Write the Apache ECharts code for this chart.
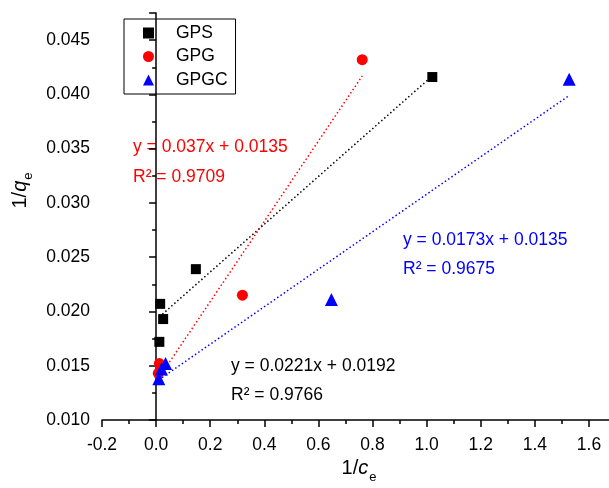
<!DOCTYPE html>
<html><head><meta charset="utf-8">
<script src="https://cdn.jsdelivr.net/npm/echarts@6/dist/echarts.min.js"></script>
<style>html,body{margin:0;padding:0;background:#fff}#c{width:609px;height:488px}</style>
</head><body><div id="c"></div>
<script>
// ---- data ----
const seriesNames = ['GPS', 'GPG', 'GPGC'];
const seriesColors = ['#000000', '#ff0000', '#0000ff'];
const gpsData  = [[0.015, 0.0207], [0.026, 0.0193], [0.012, 0.0172], [0.147, 0.0239], [1.021, 0.0416]];
const gpgData  = [[0.012, 0.0152], [0.008, 0.0143], [0.319, 0.0215], [0.762, 0.0432]];
const gpgcData = [[0.035, 0.0152], [0.020, 0.0147], [0.010, 0.0138], [0.648, 0.0211], [1.527, 0.0414]];
const gpsFit  = [[0.012, 0.0195], [1.021, 0.0417]];
const gpgFit  = [[0.008, 0.0138], [0.762, 0.0417]];
const gpgcFit = [[0.010, 0.0137], [1.527, 0.0399]];
const fitEquations = ['y = 0.0221x + 0.0192', 'y = 0.037x + 0.0135', 'y = 0.0173x + 0.0135'];
const fitR2 = ['R\u00b2 = 0.9766', 'R\u00b2 = 0.9709', 'R\u00b2 = 0.9675'];
const xTickLabels = ['-0.2', '0.0', '0.2', '0.4', '0.6', '0.8', '1.0', '1.2', '1.4', '1.6'];
const yTickLabels = ['0.010', '0.015', '0.020', '0.025', '0.030', '0.035', '0.040', '0.045'];

const FONT = '"Liberation Sans", Arial, sans-serif';
const chart = echarts.init(document.getElementById('c'), null, {renderer: 'canvas'});

const symbols = ['rect', 'circle', 'triangle'];
const symSizes = [10, 11, 13];
const scatterData = [gpsData, gpgData, gpgcData];
const fitData = [gpsFit, gpgFit, gpgcFit];

const series = [];
for (let i = 0; i < 3; i++) {
  series.push({
    name: seriesNames[i] + ' fit', type: 'line', data: fitData[i], showSymbol: false, symbol: 'none',
    lineStyle: {color: seriesColors[i], width: 1.5, type: [1.5, 2.5]}, z: 1, silent: true
  });
}
for (let i = 0; i < 3; i++) {
  series.push({
    name: seriesNames[i], type: 'scatter', data: scatterData[i], symbol: symbols[i], symbolSize: symSizes[i],
    itemStyle: {color: seriesColors[i], opacity: 1}, z: 3
  });
}

const eqPos = [[231, 367, 396], [133, 148, 178], [403, 241, 270]];
const graphics = [];
for (let i = 0; i < 3; i++) {
  graphics.push({type: 'text', left: eqPos[i][0], top: eqPos[i][1] - 10,
    style: {text: fitEquations[i], font: '17.5px ' + FONT, fill: seriesColors[i]}});
  graphics.push({type: 'text', left: eqPos[i][0], top: eqPos[i][2] - 10,
    style: {text: fitR2[i], font: '17.5px ' + FONT, fill: seriesColors[i]}});
}

const nameRich = {
  n: {fontFamily: FONT, fontSize: 20, color: '#000', lineHeight: 20, verticalAlign: 'top'},
  i: {fontFamily: FONT, fontSize: 20, fontStyle: 'italic', color: '#000', lineHeight: 20, verticalAlign: 'top'},
  s: {fontFamily: FONT, fontSize: 13, color: '#000', lineHeight: 25, verticalAlign: 'bottom', padding: [0, 0, 0, 1]}
};

chart.setOption({
  animation: false,
  backgroundColor: '#fff',
  grid: {left: 102, top: 13, bottom: 68, right: -7, containLabel: false, outerBoundsMode: 'none'},
  legend: {
    data: seriesNames, orient: 'vertical', left: 124, top: 19,
    padding: [4, 8, 4, 19], itemGap: 3.5, itemWidth: 11, itemHeight: 11,
    borderColor: '#000', borderWidth: 1, borderRadius: 0,
    textStyle: {fontFamily: FONT, fontSize: 17.5, color: '#000', lineHeight: 20, padding: [0, 0, 0, 17]}
  },
  xAxis: {
    type: 'value', min: -0.2, max: 1.7, interval: 0.2,
    name: '{n|1/}{i|c}{s|e}', nameLocation: 'middle', nameGap: 38,
    nameTextStyle: {rich: nameRich},
    axisLine: {lineStyle: {color: '#000', width: 1.5}},
    axisTick: {show: true, inside: false, length: 7, lineStyle: {color: '#000', width: 1.5}},
    minorTick: {show: true, splitNumber: 2, length: 4, lineStyle: {color: '#000', width: 1.5}},
    splitLine: {show: false},
    axisLabel: {fontFamily: FONT, fontSize: 17.5, color: '#000', margin: 16, showMaxLabel: false,
      formatter: v => { const s = v.toFixed(1); const k = xTickLabels.indexOf(s === '-0.0' ? '0.0' : s); return k >= 0 ? xTickLabels[k] : ''; }}
  },
  yAxis: {
    type: 'value', min: 0.010, max: 0.0475, interval: 0.005,
    name: '{n|1/}{i|q}{s|e}', nameLocation: 'middle', nameGap: 63, nameRotate: 90,
    nameTextStyle: {padding: [0, 0, 0, 52], rich: nameRich},
    axisLine: {lineStyle: {color: '#000', width: 1.5}},
    axisTick: {show: true, inside: false, length: 7, lineStyle: {color: '#000', width: 1.5}},
    minorTick: {show: true, splitNumber: 2, length: 4, lineStyle: {color: '#000', width: 1.5}},
    splitLine: {show: false},
    axisLabel: {fontFamily: FONT, fontSize: 17.5, color: '#000', margin: 12, showMaxLabel: false,
      formatter: v => { const s = v.toFixed(3); const k = yTickLabels.indexOf(s); return k >= 0 ? yTickLabels[k] : ''; }}
  },
  series: series,
  graphic: graphics
});
</script>
</body></html>
